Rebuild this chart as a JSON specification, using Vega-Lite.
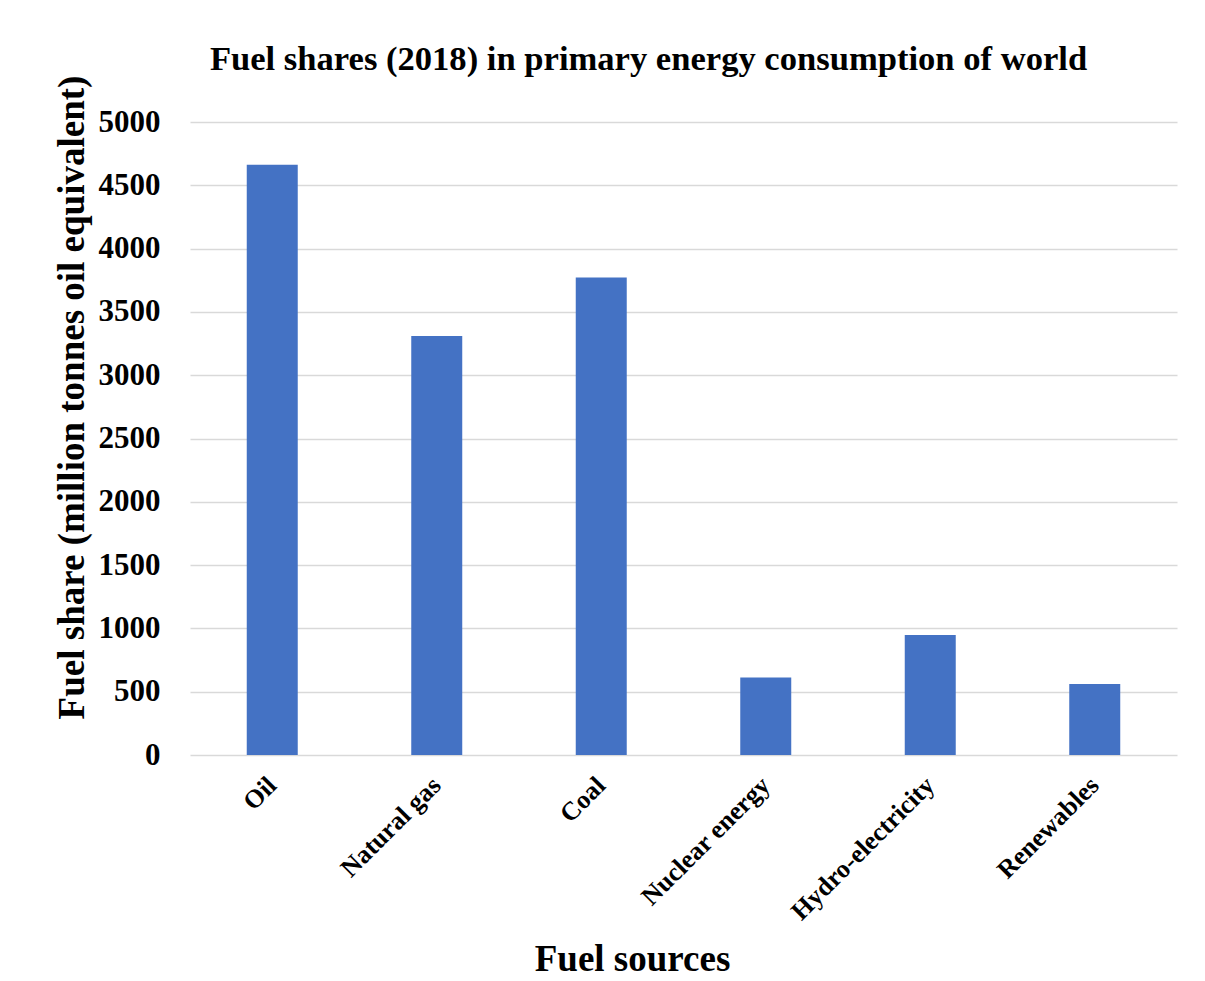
{
  "$schema": "https://vega.github.io/schema/vega-lite/v6.json",
  "autosize": "none",
  "width": 987,
  "height": 633,
  "padding": {"left": 190, "top": 122, "right": 28, "bottom": 226},
  "background": "white",
  "title": {
    "text": "Fuel shares (2018) in primary energy consumption of world",
    "anchor": "middle",
    "frame": "group",
    "dx": -35,
    "offset": -29,
    "baseline": "alphabetic",
    "font": "Liberation Serif",
    "fontSize": 34.6,
    "fontWeight": "bold",
    "color": "black"
  },
  "data": {
    "values": [
      {"source": "Oil", "share": 4662.1},
      {"source": "Natural gas", "share": 3309.4},
      {"source": "Coal", "share": 3772.1},
      {"source": "Nuclear energy", "share": 611.3},
      {"source": "Hydro-electricity", "share": 948.8},
      {"source": "Renewables", "share": 561.3}
    ]
  },
  "mark": {"type": "bar", "color": "#4472C4"},
  "encoding": {
    "x": {
      "field": "source",
      "type": "nominal",
      "sort": null,
      "scale": {"paddingInner": 0.69, "paddingOuter": 0.345},
      "axis": {
        "title": "Fuel sources",
        "titleFont": "Liberation Serif",
        "titleFontSize": 37,
        "titleFontWeight": "bold",
        "titleColor": "black",
        "titleX": 442,
        "titleY": 215,
        "titleBaseline": "alphabetic",
        "labelAngle": -45,
        "labelAlign": "right",
        "labelBaseline": "middle",
        "labelPadding": 26,
        "labelLimit": 400,
        "labelFont": "Liberation Serif",
        "labelFontSize": 26,
        "labelFontWeight": "bold",
        "labelColor": "black",
        "domain": false,
        "ticks": false
      }
    },
    "y": {
      "field": "share",
      "type": "quantitative",
      "scale": {"domain": [0, 5000], "nice": false},
      "axis": {
        "title": "Fuel share (million tonnes oil equivalent)",
        "titleFont": "Liberation Serif",
        "titleFontSize": 37,
        "titleFontWeight": "bold",
        "titleColor": "black",
        "titleAngle": -90,
        "titleAlign": "center",
        "titleBaseline": "middle",
        "titleX": -118,
        "titleY": 275,
        "values": [0, 500, 1000, 1500, 2000, 2500, 3000, 3500, 4000, 4500, 5000],
        "format": "d",
        "labelFont": "Liberation Serif",
        "labelFontSize": 31,
        "labelFontWeight": "bold",
        "labelColor": "black",
        "labelPadding": 30,
        "domain": false,
        "ticks": false,
        "grid": true,
        "gridColor": "#d9d9d9",
        "gridWidth": 1.5
      }
    }
  },
  "config": {"view": {"stroke": null}}
}
